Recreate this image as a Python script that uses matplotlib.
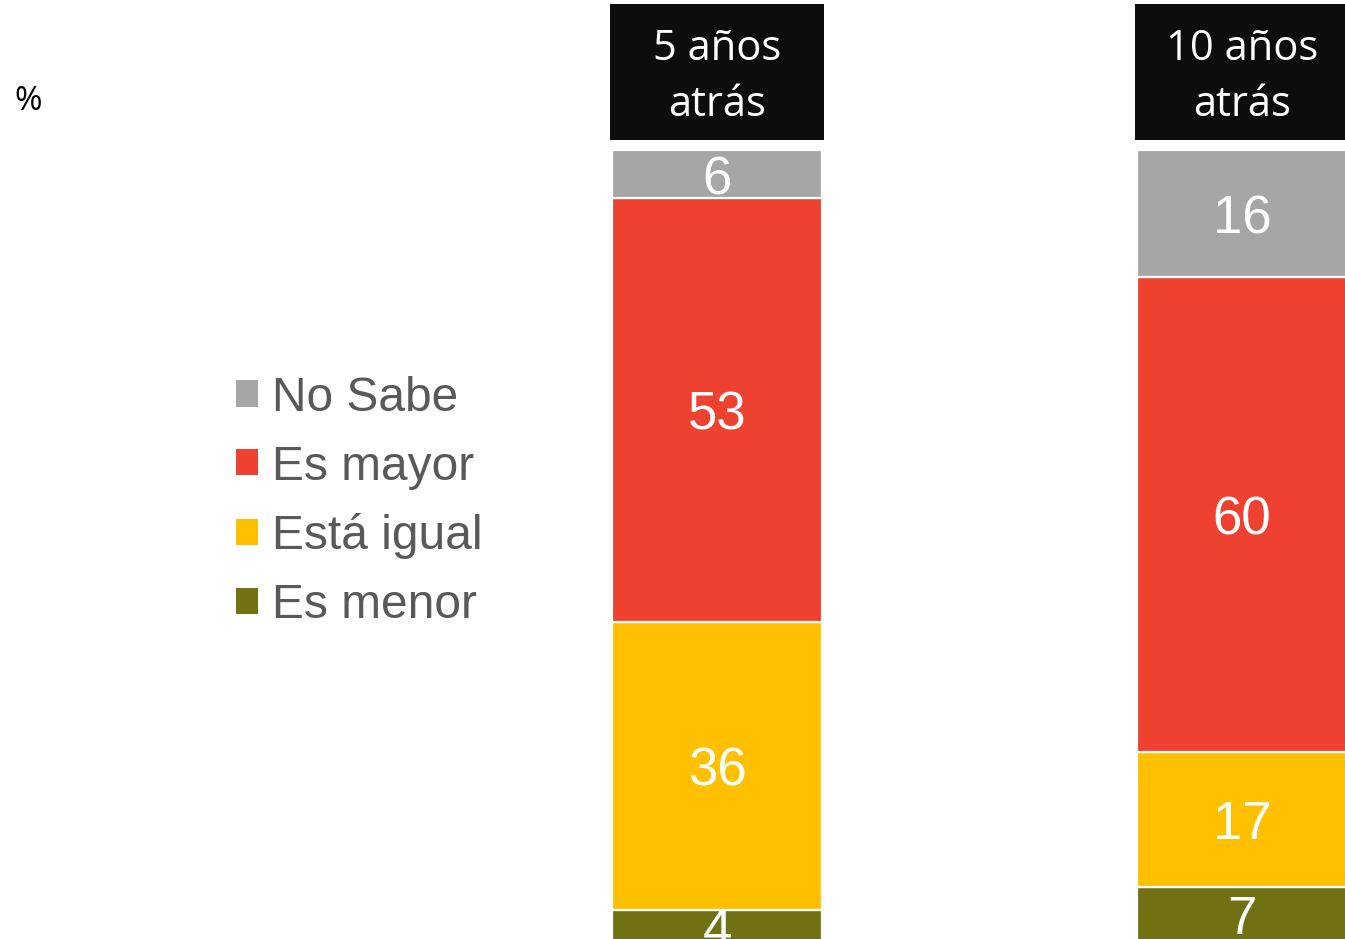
import matplotlib
matplotlib.use("Agg")
import matplotlib.pyplot as plt
import matplotlib.transforms as mtransforms
from matplotlib.patches import Patch, Rectangle
import numpy as np

periods = ["5 años\natrás", "10 años\natrás"]
# stacked bottom -> top
categories = ["Es menor", "Está igual", "Es mayor", "No Sabe"]
values = {
    "Es menor": [4, 7],
    "Está igual": [36, 17],
    "Es mayor": [53, 60],
    "No Sabe": [6, 16],
}
colors = {
    "Es menor": "#6F7112",
    "Está igual": "#FFC000",
    "Es mayor": "#EF4130",
    "No Sabe": "#A6A6A6",
}

W, H = 1345, 939
fig = plt.figure(figsize=(W / 100, H / 100), dpi=100)
# bars run from y=150px to ~942px
ax = fig.add_axes([0, -3 / H, 1, 792 / H])
ax.set_axis_off()

x = np.arange(len(periods))
totals = np.sum([values[c] for c in categories], axis=0)
bottom = np.zeros(len(periods))
lab_tr = mtransforms.offset_copy(ax.transData, fig, y=-6, units="dots")
for c in categories:
    share = np.array(values[c]) / totals * 100
    ax.bar(x, share, width=0.4, bottom=bottom, color=colors[c],
           edgecolor="white", linewidth=1.6)
    for xi, b, s, v in zip(x, bottom, share, values[c]):
        ax.text(xi, b + s / 2, str(v), ha="center", va="center",
                transform=lab_tr, color="white", fontsize=38,
                family="Liberation Sans")
    bottom += share

ax.set_xlim(-717 / 525, 1 + (1345 - 1242) / 525)
ax.set_ylim(0, 100)

# header boxes
tr = mtransforms.blended_transform_factory(ax.transData, fig.transFigure)
for xi, lab in zip(x, periods):
    ax.add_patch(Rectangle((xi - 0.203, 1 - 140 / H), 0.406, 136 / H,
                           transform=tr, facecolor="#0D0D0D",
                           edgecolor="none", clip_on=False))
    ax.text(xi, 1 - 77 / H, lab, transform=tr, ha="center", va="center",
            color="white", fontsize=30, family="Open Sans", linespacing=1.42)

fig.text(14 / W, 1 - 102 / H, "%", fontsize=24, family="Open Sans",
         va="center", ha="left", color="black")

handles = [Patch(facecolor=colors[c], edgecolor="none") for c in categories[::-1]]
leg = fig.legend(handles, categories[::-1], loc="center left",
                 bbox_to_anchor=(236 / W, 1 - 502 / H), frameon=False,
                 prop={"family": "Liberation Sans", "size": 34.5},
                 handlelength=0.46, handleheight=0.46, handletextpad=0.29,
                 labelspacing=0.5, borderaxespad=0, borderpad=0)
for t in leg.get_texts():
    t.set_color("#595959")

fig.savefig("out.png", dpi=100)
